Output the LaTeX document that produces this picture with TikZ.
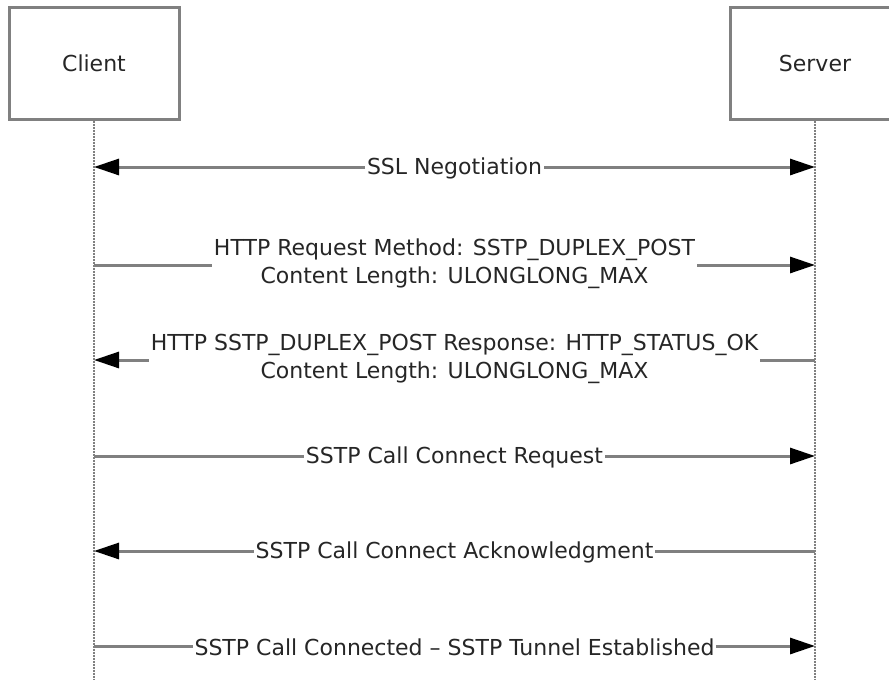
\documentclass[tikz,border=0pt]{standalone}
\usepackage{fontspec}
\setmainfont{DejaVu Sans}
\usetikzlibrary{arrows.meta}
\definecolor{linegray}{HTML}{808080}
\definecolor{txt}{HTML}{262626}
\tikzset{
  actor/.style={draw=linegray, line width=3pt, minimum width=170pt, minimum height=112pt, text=txt},
  life/.style={linegray, line width=2.5pt, dash pattern=on 2pt off 1pt},
  msg/.style={linegray, line width=3pt, -{Triangle[length=25pt,width=16pt,color=black]}},
  lbl/.style={fill=white, text=txt, inner sep=2pt, align=center}
}
\begin{document}
\begin{tikzpicture}[x=1pt,y=-1pt,font=\fontsize{22}{28}\selectfont]
\useasboundingbox (0,0) rectangle (889,680);
\clip (0,0) rectangle (889,680);
% lifeline heads
\node[actor] (client) at (94,63) {Client};
\node[actor] (server) at (815,63) {Server};
\coordinate (cend) at (94,680);
\coordinate (send) at (815,680);
\draw[life] (client.south) -- (cend);
\draw[life] (server.south) -- (send);

% message end points
\coordinate (c1) at (94,167);  \coordinate (s1) at (815,167);
\coordinate (c2) at (94,265);  \coordinate (s2) at (815,265);
\coordinate (c3) at (94,360);  \coordinate (s3) at (815,360);
\coordinate (c4) at (94,456);  \coordinate (s4) at (815,456);
\coordinate (c5) at (94,551);  \coordinate (s5) at (815,551);
\coordinate (c6) at (94,646);  \coordinate (s6) at (815,646);

% messages
\draw[msg, {Triangle[length=25pt,width=16pt,color=black]}-{Triangle[length=25pt,width=16pt,color=black]}] (c1) -- node[lbl, yshift=-1pt] (m1) {SSL Negotiation} (s1);
\draw[msg] (c2) -- node[lbl, yshift=1pt] (m2) {HTTP Request Method: SSTP\_DUPLEX\_POST\\Content Length: ULONGLONG\_MAX} (s2);
\draw[msg] (s3) -- node[lbl, yshift=1pt] (m3) {HTTP SSTP\_DUPLEX\_POST Response: HTTP\_STATUS\_OK\\Content Length: ULONGLONG\_MAX} (c3);
\draw[msg] (c4) -- node[lbl, yshift=-1pt] (m4) {SSTP Call Connect Request} (s4);
\draw[msg] (s5) -- node[lbl, yshift=-1pt] (m5) {SSTP Call Connect Acknowledgment} (c5);
\draw[msg] (c6) -- node[lbl, yshift=-1pt] (m6) {SSTP Call Connected – SSTP Tunnel Established} (s6);
\end{tikzpicture}
\end{document}
